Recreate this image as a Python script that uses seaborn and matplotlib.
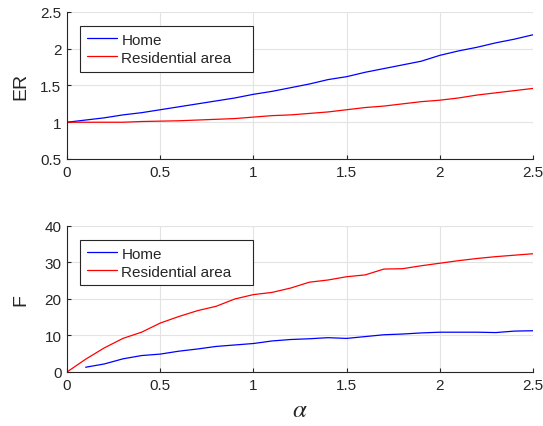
import pandas as pd
import matplotlib
matplotlib.use("Agg")
import matplotlib.pyplot as plt
import seaborn as sns

sns.set_theme(style="ticks")
plt.rcParams['font.family'] = ['Liberation Sans', 'DejaVu Sans']
plt.rcParams['mathtext.fontset'] = 'stix'

alpha = [0.0, 0.1, 0.2, 0.3, 0.4, 0.5, 0.6, 0.7, 0.8, 0.9, 1.0, 1.1, 1.2,
         1.3, 1.4, 1.5, 1.6, 1.7, 1.8, 1.9, 2.0, 2.1, 2.2, 2.3, 2.4, 2.5]

er_home = [1.00, 1.03, 1.06, 1.10, 1.13, 1.17, 1.21, 1.25, 1.29, 1.33, 1.38,
           1.42, 1.47, 1.52, 1.58, 1.62, 1.68, 1.73, 1.78, 1.83, 1.91, 1.97,
           2.02, 2.08, 2.13, 2.19]
er_res = [1.00, 1.00, 1.00, 1.00, 1.01, 1.015, 1.02, 1.03, 1.04, 1.05, 1.07,
          1.09, 1.10, 1.12, 1.14, 1.17, 1.20, 1.22, 1.25, 1.28, 1.30, 1.33,
          1.37, 1.40, 1.43, 1.46]

# Home F has no value at alpha = 0
f_home = [None, 1.3, 2.2, 3.6, 4.5, 4.9, 5.7, 6.3, 7.0, 7.4, 7.8, 8.5, 8.9,
          9.1, 9.4, 9.2, 9.7, 10.2, 10.4, 10.7, 10.9, 10.9, 10.9, 10.8, 11.2, 11.3]
f_res = [0.0, 3.5, 6.6, 9.2, 10.9, 13.4, 15.2, 16.8, 18.0, 20.0, 21.2, 21.8,
         23.0, 24.6, 25.2, 26.1, 26.6, 28.2, 28.3, 29.1, 29.8, 30.5, 31.1,
         31.6, 32.0, 32.4]

series = ["Home", "Residential area"]
palette = {"Home": "#0000ff", "Residential area": "#ff0000"}

er = pd.DataFrame({"alpha": alpha * 2, "value": er_home + er_res,
                   "series": ["Home"] * len(alpha) + ["Residential area"] * len(alpha)})
f = pd.DataFrame({"alpha": alpha * 2, "value": f_home + f_res,
                  "series": ["Home"] * len(alpha) + ["Residential area"] * len(alpha)})
f = f.dropna()

fig = plt.figure(figsize=(5.43, 4.27), dpi=100)
ax1 = fig.add_axes([0.1234, 0.6253, 0.8582, 0.3443])
ax2 = fig.add_axes([0.1234, 0.1265, 0.8582, 0.3419])

for ax, data, ylab, ylim, yticks in [
        (ax1, er, "ER", (0.5, 2.5), [0.5, 1, 1.5, 2, 2.5]),
        (ax2, f, "F", (0, 40), [0, 10, 20, 30, 40])]:
    sns.lineplot(data=data, x="alpha", y="value", hue="series", hue_order=series,
                 palette=palette, linewidth=0.9, ax=ax)
    ax.set_xlim(0, 2.5)
    ax.set_ylim(*ylim)
    ax.set_yticks(yticks)
    ax.set_yticklabels([f"{t:g}" for t in yticks])
    ax.set_xticks([0, 0.5, 1, 1.5, 2, 2.5])
    ax.set_xticklabels(["0", "0.5", "1", "1.5", "2", "2.5"])
    ax.grid(True, color="#e3e3e3", linewidth=0.8)
    ax.set_axisbelow(True)
    for s in ["top", "right"]:
        ax.spines[s].set_visible(False)
    for s in ["left", "bottom"]:
        ax.spines[s].set_color("#262626")
        ax.spines[s].set_linewidth(0.8)
    ax.tick_params(direction="in", length=3, width=0.8, colors="#262626",
                   labelsize=11, pad=4)
    ax.set_xlabel("")
    ax.set_ylabel(ylab, fontsize=14, color="#262626")
    leg = ax.legend(loc="upper left", bbox_to_anchor=(0.028, 0, 0.371, 0.905),
                    mode="expand", fontsize=11,
                    frameon=True, fancybox=False, handlelength=2.0,
                    borderpad=0.45, labelspacing=0.25, handletextpad=0.25,
                    borderaxespad=0)
    leg.get_frame().set_edgecolor("#262626")
    leg.get_frame().set_linewidth(0.8)
    leg.get_frame().set_alpha(1)

ax2.set_xlabel(r"$\alpha$", fontsize=18, color="#262626")
ax1.yaxis.set_label_coords(-0.08, 0.5)
ax2.yaxis.set_label_coords(-0.08, 0.5)

fig.savefig("out.png", dpi=100)
